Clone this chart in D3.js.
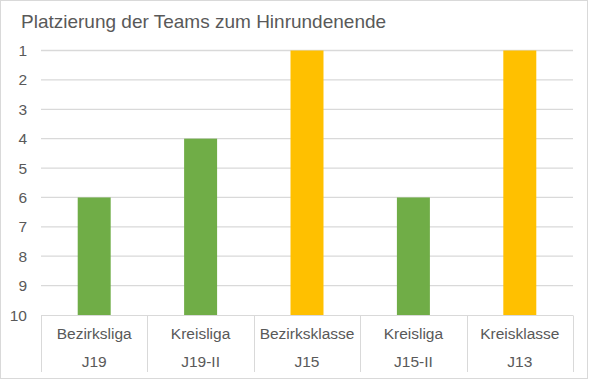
<!DOCTYPE html>
<html><head><meta charset="utf-8">
<script src="https://cdn.jsdelivr.net/npm/d3@7"></script>
<style>body{margin:0;background:#fff;}svg{display:block;font-family:"Liberation Sans",Arial,sans-serif;}</style>
</head><body>
<script>
const leagues = ["Bezirksliga","Kreisliga","Bezirksklasse","Kreisliga","Kreisklasse"];
const teams = ["J19","J19-II","J15","J15-II","J13"];
const places = [6,4,1,6,1];
const barColors = ["#70AD47","#70AD47","#FFC000","#70AD47","#FFC000"];
const yTicks = [1,2,3,4,5,6,7,8,9,10];
const title = "Platzierung der Teams zum Hinrundenende";

(function(){
const W=589,H=380;
const svg=d3.select("body").append("svg").attr("width",W).attr("height",H);
svg.append("rect").attr("x",0.5).attr("y",0.5).attr("width",W-2).attr("height",H-2)
  .attr("fill","#fff").attr("stroke","#d9d9d9");

const pl=41,pr=573,pt=50.5,pb=315;
const x=d3.scaleBand().domain(d3.range(teams.length)).range([pl,pr]).paddingInner(0).paddingOuter(0);
const y=d3.scaleLinear().domain([1,10]).range([pt,pb]);

svg.append("text").attr("x",21).attr("y",28).attr("font-size",19).attr("fill","#595959").text(title);

svg.append("g").selectAll("line").data(yTicks.filter(t=>t!==10)).join("line")
  .attr("x1",pl).attr("x2",pr).attr("y1",d=>y(d)).attr("y2",d=>y(d))
  .attr("stroke","#d9d9d9").attr("stroke-width",1.3);

svg.append("g").selectAll("text").data(yTicks).join("text")
  .attr("x",27).attr("y",d=>y(d)+5.5).attr("text-anchor","end").attr("font-size",15.5).attr("fill","#595959").text(d=>d);

const bw=x.bandwidth()*0.31;
svg.append("g").selectAll("rect").data(places).join("rect")
  .attr("x",(d,i)=>x(i)+x.bandwidth()/2-bw/2).attr("width",bw)
  .attr("y",d=>y(d)).attr("height",d=>y(10)-y(d))
  .attr("fill",(d,i)=>barColors[i]);

const b=Math.round(y(10))+0.5;
svg.append("line").attr("x1",pl).attr("x2",pr).attr("y1",b).attr("y2",b).attr("stroke","#d9d9d9");
svg.append("g").selectAll("line").data(d3.range(teams.length+1)).join("line")
  .attr("x1",i=>Math.round(i<teams.length?x(i):pr)+0.5).attr("x2",i=>Math.round(i<teams.length?x(i):pr)+0.5)
  .attr("y1",b).attr("y2",372).attr("stroke","#d9d9d9");
svg.append("g").selectAll("text").data(leagues).join("text")
  .attr("x",(d,i)=>x(i)+x.bandwidth()/2).attr("y",339).attr("text-anchor","middle")
  .attr("font-size",15.5).attr("fill","#595959").text(d=>d);
svg.append("g").selectAll("text").data(teams).join("text")
  .attr("x",(d,i)=>x(i)+x.bandwidth()/2).attr("y",367).attr("text-anchor","middle")
  .attr("font-size",15.5).attr("fill","#595959").text(d=>d);
})();
</script>
</body></html>
